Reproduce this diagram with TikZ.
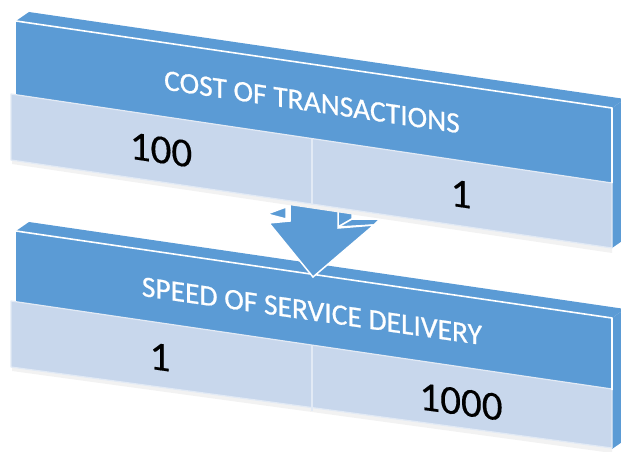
\documentclass[tikz,border=0pt]{standalone}
\usepackage{fontspec}
\setmainfont{Carlito}
\newfontfamily\hdrfont{Carlito}[FakeBold=0.7]
\newfontfamily\numfont{Carlito}[FakeBold=0.3]
\definecolor{hblue}{HTML}{5B9BD5}
\definecolor{lblue}{HTML}{C8D7EC}
\definecolor{lline}{HTML}{E2EAF5}
\begin{document}
\begin{tikzpicture}[x=1pt,y=-1pt,
  face/.style={fill=hblue},
  edge/.style={draw=white, line width=1.6pt, line join=round},
  cellrow/.style={fill=lblue, draw=lline, line width=1.2pt, line join=round},
  divider/.style={draw=lline, line width=1.5pt},
  arr/.style={fill=hblue, draw=white, line width=1.5pt, line join=miter},
  shadowrow/.style={fill=black!5},
  hdrtext/.style={text=white, font=\hdrfont\fontsize{29.5}{30}\selectfont, inner sep=0pt},
  numtext/.style={text=black, font=\numfont\fontsize{41}{42}\selectfont, inner sep=0pt}]
\useasboundingbox (0,0) rectangle (621,452);

% ---------- bottom block ----------
\fill[shadowrow] (12,367) -- (612,448) -- (612,453) -- (12,371) -- cycle;
\fill[face] (16,231) -- (29,222) -- (625,309) -- (612,318) -- cycle;
\fill[face] (612,318) -- (625,309) -- (625,440) -- (612,449) -- cycle;
\fill[face] (16,231) -- (612,318) -- (612,390) -- (16,302) -- cycle;
\draw[cellrow] (11,301) -- (612,389) -- (612,448) -- (11,367) -- cycle;
\draw[divider] (312,345) -- (312,411);
\draw[edge] (16,231) -- (612,318) -- (612,390);

% ---------- arrow ----------
\draw[arr] (338,190) -- (352,190) -- (352,219) -- (338,227) -- cycle;
\draw[arr] (338,227) -- (352,219) -- (380,219) -- (374,225) -- cycle;
\draw[arr] (267,214) -- (286,207) -- (286,219) -- cycle;
\draw[arr] (290,150) -- (290,221) -- (269,223) -- (313,277) -- (374,225) -- (338,228) -- (338,150) -- cycle;

% ---------- top block ----------
\fill[shadowrow] (12,160) -- (612,248) -- (612,253) -- (12,164) -- cycle;
\fill[face] (16,21) -- (29,12) -- (625,99) -- (612,108) -- cycle;
\fill[face] (612,108) -- (625,99) -- (625,239) -- (612,248) -- cycle;
\fill[face] (16,21) -- (612,108) -- (612,183) -- (16,95) -- cycle;
\draw[cellrow] (11,94) -- (612,183) -- (612,248) -- (11,160) -- cycle;
\draw[divider] (312,138) -- (312,204);
\draw[edge] (16,21) -- (612,108) -- (612,183);

% ---------- texts ----------
\node[hdrtext, yslant=-0.148] (t1) at (312,102) {COST OF TRANSACTIONS};
\node[hdrtext, yslant=-0.144] (t2) at (312,311) {SPEED OF SERVICE DELIVERY};
\node[numtext, yslant=-0.146] (n1) at (161,150) {100};
\node[numtext, yslant=-0.146] (n2) at (461,194) {1};
\node[numtext, yslant=-0.14] (n3) at (160,357) {1};
\node[numtext, yslant=-0.14] (n4) at (461,402) {1000};
\end{tikzpicture}
\end{document}
